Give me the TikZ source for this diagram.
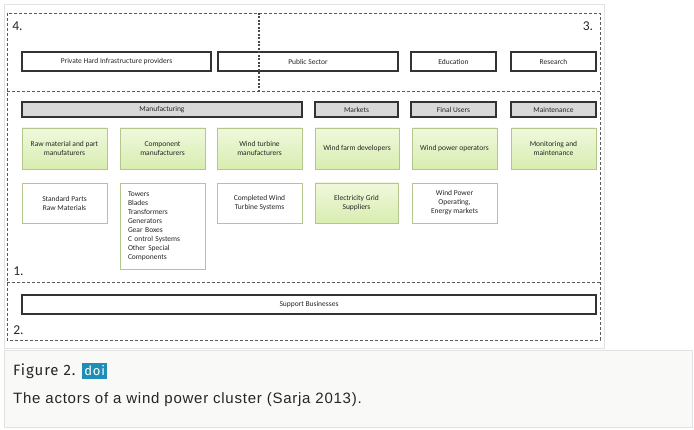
\documentclass[tikz,border=0pt]{standalone}
\usepackage{fontspec}
\setmainfont{Carlito}
\newfontfamily\figfont[LetterSpace=6]{Fira Sans}
\newfontfamily\capfont[LetterSpace=5]{Liberation Sans}
\usetikzlibrary{positioning}

\definecolor{zonegray}{HTML}{5A5A5A}
\definecolor{boxline}{HTML}{333333}
\definecolor{headgray}{HTML}{D9D9D9}
\definecolor{greenline}{HTML}{B3C68C}
\definecolor{greentop}{HTML}{F0F8DC}
\definecolor{greenbot}{HTML}{D8EDB0}
\definecolor{capback}{HTML}{F9F9F7}
\definecolor{capline}{HTML}{E2E2E0}
\definecolor{doiblue}{HTML}{1F8DB6}

\tikzset{
  actor/.style={draw=boxline, line width=1.1pt, fill=white, inner sep=0pt,
                align=center, text=black!85, font=\fontsize{7.5}{9}\selectfont},
  header/.style={actor, fill=headgray},
  greenbox/.style={draw=greenline, line width=0.9pt, top color=greentop,
                   bottom color=greenbot, inner sep=0pt, align=center,
                   text=black!85, font=\fontsize{7.5}{9}\selectfont},
  plainbox/.style={greenbox, top color=white, bottom color=white},
  zone/.style={draw=zonegray, line width=0.7pt, dash pattern=on 3pt off 2pt},
  zonelabel/.style={inner sep=0pt, text=black!85, font=\fontsize{13.5}{13.5}\selectfont},
}

\begin{document}
\begin{tikzpicture}[x=1pt, y=-1pt]
  \useasboundingbox (0,0) rectangle (694,430);
  % frame of the figure and the caption panel
  \draw[capline, line width=0.6pt] (4,4) rectangle (604,348);
  \draw[capline, fill=capback, line width=0.6pt] (4,350) rectangle (692,427);

  % dashed zones
  \draw[zone] (7,13) rectangle (600,340);
  \draw[zone] (7,91) -- (600,91);
  \draw[zone] (7,282) -- (600,282);

  % zones 4. and 3.
  \node[actor, minimum width=189, minimum height=19] (priv) at (116.5,61.5) {Private Hard Infrastructure providers};
  \node[actor, minimum width=180, minimum height=19] (pub) at (308,61.5) {Public Sector};
  \node[actor, minimum width=85, minimum height=19] (edu) at (453.5,61.5) {Education};
  \node[actor, minimum width=85, minimum height=19] (res) at (553.5,61.5) {Research};

  % zone 1.: headers
  \node[header, minimum width=280, minimum height=15] (manu) at (162,109.5) {Manufacturing};
  \node[header, minimum width=83, minimum height=15] (mark) at (356.5,109.5) {Markets};
  \node[header, minimum width=85, minimum height=15] (users) at (453.5,109.5) {Final Users};
  \node[header, minimum width=85, minimum height=15] (maint) at (553.5,109.5) {Maintenance};

  % zone 1.: actors
  \node[greenbox, minimum width=85, minimum height=41] (raw) at (64.5,148.5) {Raw material and part\\manufaturers};
  \node[greenbox, minimum width=85, minimum height=41] (comp) at (162.5,148.5) {Component\\manufacturers};
  \node[greenbox, minimum width=85, minimum height=41] (turb) at (259.5,148.5) {Wind turbine\\manufacturers};
  \node[greenbox, minimum width=84, minimum height=41] (dev) at (357,148.5) {Wind farm developers};
  \node[greenbox, minimum width=85, minimum height=41] (oper) at (454.5,148.5) {Wind power operators};
  \node[greenbox, minimum width=85, minimum height=41] (mon) at (553.5,148.5) {Monitoring and\\maintenance};

  % zone 1.: products
  \node[plainbox, minimum width=85, minimum height=40] (std) at (64.5,203) {Standard Parts\\Raw Materials};
  \node[plainbox, minimum width=85, minimum height=86, text width=69, inner xsep=8, align=left] (parts) at (162.5,226)
    {Towers\\Blades\\Transformers\\Generators\\Gear Boxes\\C ontrol Systems\\Other Special\\Components};
  \node[plainbox, minimum width=85, minimum height=40] (sys) at (259.5,203) {Completed Wind\\Turbine Systems};
  \node[greenbox, minimum width=83, minimum height=40] (grid) at (356.5,203) {Electricity Grid\\Suppliers};
  \node[plainbox, minimum width=85, minimum height=40] (energy) at (454.5,203) {Wind Power\\Operating,\\Energy markets};

  % zone 2.
  \node[actor, minimum width=574, minimum height=19] (supp) at (309,304.5) {Support Businesses};

  % border between zones 4. and 3.
  \draw[zonegray!80!black, line width=1.3pt, dash pattern=on 2pt off 1.5pt] (259,13) -- (259,91);

  % zone numbers
  \node[zonelabel] (z4) at (17.5,26) {4.};
  \node[zonelabel] (z3) at (588,26) {3.};
  \node[zonelabel] (z1) at (18.5,271) {1.};
  \node[zonelabel] (z2) at (18.5,330) {2.};

  % caption
  \node[anchor=west, inner sep=0pt, text=black!85, font=\figfont\fontsize{15}{15}\selectfont] (fig) at (13,371) {Figure 2.};
  \node[fill=doiblue, text=white, inner xsep=2.5pt, inner ysep=1pt, minimum height=16,
        font=\figfont\fontsize{13}{13}\selectfont, right=6 of fig] (doi) {doi};
  \node[anchor=west, inner sep=0pt, text=black!85, font=\capfont\fontsize{15}{16}\selectfont] (cap) at (13,400)
    {The actors of a wind power cluster (Sarja 2013).};
\end{tikzpicture}
\end{document}
